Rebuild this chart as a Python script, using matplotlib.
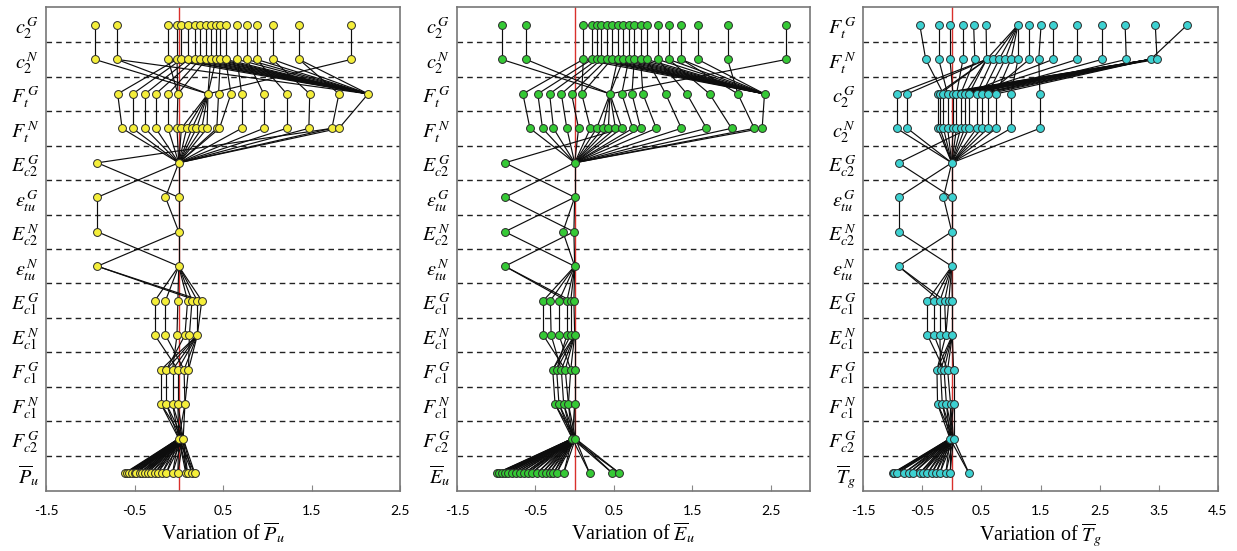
import matplotlib
matplotlib.use("Agg")
import matplotlib.pyplot as plt
from matplotlib.collections import LineCollection

plt.rcParams["mathtext.fontset"] = "stix"

# ---------------- Panel 1: variation of P_u ----------------
pu_labels = [r"$c_2^{\,G}$", r"$c_2^{\,N}$", r"$F_t^{\,G}$", r"$F_t^{\,N}$",
             r"$E_{c2}^{\,G}$", r"$\varepsilon_{tu}^{\,G}$", r"$E_{c2}^{\,N}$",
             r"$\varepsilon_{tu}^{\,N}$", r"$E_{c1}^{\,G}$", r"$E_{c1}^{\,N}$",
             r"$F_{c1}^{\,G}$", r"$F_{c1}^{\,N}$", r"$F_{c2}^{\,G}$", r"$\overline{P}_{u}$"]
pu_nodes = [
    [-0.95, -0.70, -0.12, -0.02, 0.03, 0.11, 0.18, 0.24, 0.31, 0.36, 0.42, 0.47, 0.53, 0.66, 0.77, 0.88, 1.06, 1.36, 1.95],
    [-0.95, -0.70, -0.12, -0.02, 0.03, 0.11, 0.18, 0.24, 0.31, 0.36, 0.42, 0.47, 0.53, 0.66, 0.77, 0.88, 1.06, 1.36, 1.95],
    [-0.69, -0.52, -0.38, -0.26, -0.12, -0.01, 0.33, 0.45, 0.59, 0.71, 0.96, 1.22, 1.48, 1.81, 2.14],
    [-0.64, -0.52, -0.38, -0.26, -0.12, -0.02, 0.03, 0.09, 0.15, 0.20, 0.26, 0.32, 0.43, 0.46, 0.71, 0.96, 1.22, 1.47, 1.73, 1.81],
    [-0.92, 0.00],
    [-0.92, -0.15, 0.00],
    [-0.92, 0.00],
    [-0.92, 0.00],
    [-0.27, -0.15, -0.01, 0.10, 0.15, 0.21, 0.26],
    [-0.27, -0.15, -0.02, 0.07, 0.12, 0.21],
    [-0.20, -0.14, -0.07, -0.01, 0.06, 0.11],
    [-0.20, -0.14, -0.07, -0.01, 0.07],
    [0.00, 0.05],
    [-0.61, -0.59, -0.56, -0.53, -0.50, -0.48, -0.44, -0.41, -0.38, -0.35, -0.31,
     -0.27, -0.24, -0.19, -0.14, -0.07, -0.01, 0.08, 0.10, 0.15, 0.18],
]
# links between consecutive rows: (index in upper row, indices in lower row)
pu_links = [
    [(i, [i]) for i in range(19)],
    [(0, [6]), (1, [6, 14]), (2, [5, 14]), (3, [0, 5, 14]), (4, [1, 14]), (5, [2, 14]),
     (6, [3, 14]), (7, [4, 14]), (8, [5, 14]), (9, [6, 14]), (10, [6, 14]), (11, [7, 14]),
     (12, [8, 14]), (13, [9, 14]), (14, [10, 14]), (15, [11, 14]), (16, [12, 14]),
     (17, [13, 14]), (18, [6])],
    [(0, [0]), (1, [1]), (2, [2]), (3, [3]), (4, [4]), (5, [5]), (6, [6, 7, 8, 9, 10, 11]),
     (7, [12]), (8, [13]), (9, [14]), (10, [15]), (11, [16]), (12, [17]), (13, [18]), (14, [19])],
    [(i, [1]) for i in range(20)] + [(18, [0])],
    [(0, [2]), (1, [0, 1, 2])],
    [(0, [0]), (1, [1]), (2, [1])],
    [(0, [1]), (1, [0, 1])],
    [(1, [0, 1, 2, 3, 4, 5, 6]), (0, [5, 6])],
    [(0, [0]), (1, [1]), (2, [2]), (3, [3]), (4, [4]), (5, [5]), (6, [5])],
    [(5, [0, 1, 2, 3, 4, 5]), (0, [3]), (1, [4]), (2, [2]), (3, [1]), (4, [5])],
    [(0, [0]), (1, [1]), (2, [2]), (3, [3]), (4, [4]), (5, [4])],
    [(i, [0, 1]) for i in range(5)],
    [(0, list(range(21))), (1, list(range(21)))],
]

# ---------------- Panel 2: variation of E_u ----------------
eu_labels = pu_labels[:-1] + [r"$\overline{E}_{u}$"]
eu_nodes = [
    [-0.93, -0.62, 0.11, 0.22, 0.29, 0.34, 0.41, 0.47, 0.55, 0.62, 0.69, 0.76, 0.84, 0.92, 1.06, 1.20, 1.36, 1.57, 1.95, 2.70],
    [-0.93, -0.62, 0.11, 0.22, 0.29, 0.34, 0.41, 0.47, 0.55, 0.62, 0.69, 0.76, 0.84, 0.92, 1.06, 1.20, 1.36, 1.57, 1.95, 2.70],
    [-0.66, -0.47, -0.32, -0.17, -0.04, 0.09, 0.45, 0.60, 0.73, 0.87, 1.16, 1.43, 1.72, 2.08, 2.42],
    [-0.57, -0.41, -0.27, -0.10, 0.05, 0.20, 0.28, 0.36, 0.43, 0.52, 0.60, 0.74, 0.84, 1.04, 1.36, 1.68, 2.00, 2.29, 2.39],
    [-0.89, 0.00],
    [-0.89, 0.00],
    [-0.89, -0.15, -0.01],
    [-0.89, 0.00],
    [-0.40, -0.31, -0.20, -0.10, -0.05, -0.01],
    [-0.40, -0.30, -0.20, -0.10, -0.05, 0.00],
    [-0.28, -0.23, -0.17, -0.12, -0.05, 0.00],
    [-0.25, -0.20, -0.14, -0.08, 0.00],
    [-0.03, 0.01],
    [-0.99, -0.97, -0.93, -0.89, -0.85, -0.80, -0.75, -0.70, -0.64, -0.60, -0.55,
     -0.48, -0.42, -0.37, -0.32, -0.27, -0.23, -0.14, 0.19, 0.48, 0.57],
]
eu_links = [
    [(i, [i]) for i in range(20)],
    [(0, [6]), (1, [6]), (2, [0, 5, 14]), (3, [1, 14]), (4, [2, 14]), (5, [3, 14]),
     (6, [4, 14]), (7, [5, 14]), (8, [6, 14]), (9, [6, 14]), (10, [7, 14]), (11, [8, 14]),
     (12, [9, 14]), (13, [10, 14]), (14, [11, 14]), (15, [12, 14]), (16, [13, 14]),
     (17, [14]), (18, [13]), (19, [6])],
    [(0, [0]), (1, [1]), (2, [2]), (3, [3]), (4, [4]), (5, [5]), (6, [6, 7, 8, 9, 10]),
     (7, [11]), (8, [12]), (9, [13]), (10, [14]), (11, [15]), (12, [16]), (13, [17]), (14, [18])],
    [(i, [1]) for i in range(19)] + [(10, [0])],
    [(0, [1]), (1, [0, 1])],
    [(0, [2]), (1, [0, 1, 2])],
    [(0, [1]), (1, [1]), (2, [0, 1])],
    [(1, [0, 1, 2, 3, 4, 5]), (0, [3, 4])],
    [(0, [0]), (1, [1]), (2, [2]), (3, [3]), (4, [4]), (5, [5])],
    [(5, [0, 1, 2, 3, 4, 5]), (0, [3]), (1, [2]), (2, [4]), (3, [1]), (4, [0])],
    [(0, [0]), (1, [1]), (2, [2]), (3, [3]), (4, [3]), (5, [4])],
    [(i, [0, 1]) for i in range(5)],
    [(0, list(range(21))), (1, list(range(21)))],
]

# ---------------- Panel 3: variation of T_g ----------------
tg_labels = [r"$F_t^{\,G}$", r"$F_t^{\,N}$", r"$c_2^{\,G}$", r"$c_2^{\,N}$"] + pu_labels[4:-1] + [r"$\overline{T}_{g}$"]
tg_nodes = [
    [-0.54, -0.22, -0.03, 0.19, 0.37, 0.58, 1.12, 1.31, 1.51, 1.71, 2.12, 2.54, 2.93, 3.44, 3.98],
    [-0.44, -0.22, -0.03, 0.19, 0.39, 0.59, 0.69, 0.80, 0.90, 1.00, 1.12, 1.31, 1.47, 1.71, 2.12, 2.54, 2.95, 3.36, 3.47],
    [-0.93, -0.75, -0.24, -0.20, -0.14, -0.07, 0.02, 0.08, 0.15, 0.22, 0.29, 0.42, 0.51, 0.61, 0.75, 1.00, 1.49],
    [-0.93, -0.75, -0.24, -0.20, -0.14, -0.07, 0.02, 0.08, 0.15, 0.22, 0.29, 0.42, 0.51, 0.61, 0.75, 1.00, 1.49],
    [-0.90, 0.00],
    [-0.90, -0.14, 0.00],
    [-0.90, 0.00],
    [-0.90, 0.00],
    [-0.41, -0.30, -0.20, -0.12, -0.05, 0.01],
    [-0.41, -0.30, -0.20, -0.10, 0.01],
    [-0.25, -0.19, -0.13, -0.07, 0.03],
    [-0.24, -0.16, -0.09, -0.02, 0.03],
    [-0.03, 0.03],
    [-1.00, -0.97, -0.92, -0.81, -0.73, -0.65, -0.54, -0.49, -0.41, -0.34, -0.27,
     -0.20, -0.10, -0.03, 0.29],
]
tg_links = [
    [(0, [0]), (1, [1]), (2, [2]), (3, [3]), (4, [4]), (5, [5]), (6, [5, 6, 7, 8, 9, 10]),
     (7, [11]), (8, [12]), (9, [13]), (10, [14]), (11, [15]), (12, [16]), (13, [18]), (14, [17])],
    [(0, [4]), (1, [5]), (2, [6]), (3, [7]), (4, [8]), (5, [0, 1, 2, 3, 9, 10]), (6, [11]),
     (7, [12]), (8, [13]), (9, [14]), (10, [15]), (11, [13]), (12, [16]), (13, [9]),
     (14, [10]), (15, [11]), (16, [12]), (18, [6]),
     (17, [2, 3, 4, 5, 6, 7, 8, 9, 10, 11, 12, 13, 14])],
    [(i, [i]) for i in range(17)],
    [(i, [1]) for i in range(17)] + [(10, [0])],
    [(0, [2]), (1, [0, 1, 2])],
    [(0, [0]), (1, [1]), (2, [1])],
    [(0, [1]), (1, [0, 1])],
    [(1, [0, 1, 2, 3, 4, 5]), (0, [2, 3])],
    [(0, [0]), (1, [1]), (2, [2]), (3, [3]), (4, [3]), (5, [4])],
    [(4, [0, 1, 2, 3, 4]), (0, [2]), (1, [3]), (2, [1]), (3, [0])],
    [(0, [0]), (1, [1]), (2, [2]), (3, [3]), (4, [4])],
    [(i, [0, 1]) for i in range(5)],
    [(0, list(range(15))), (1, list(range(15)))],
]

panels = [
    (pu_nodes, pu_links, pu_labels, "#f4ee3a", (-1.5, 2.5), [-1.5, -0.5, 0.5, 1.5, 2.5],
     r"Variation of $\overline{P}_{u}$"),
    (eu_nodes, eu_links, eu_labels, "#35c935", (-1.5, 3.0), [-1.5, -0.5, 0.5, 1.5, 2.5],
     r"Variation of $\overline{E}_{u}$"),
    (tg_nodes, tg_links, tg_labels, "#3dd1d1", (-1.5, 4.5), [-1.5, -0.5, 0.5, 1.5, 2.5, 3.5, 4.5],
     r"Variation of $\overline{T}_{g}$"),
]

W, H = 1237, 551
fig = plt.figure(figsize=(W / 100, H / 100), dpi=100)
boxes = [(46, 400), (457, 810), (863, 1218)]
top_px, bot_px = 7, 491

for (nodes, links, labels, color, xlim, xticks, xlabel), (l, r) in zip(panels, boxes):
    ax = fig.add_axes([l / W, 1 - bot_px / H, (r - l) / W, (bot_px - top_px) / H])
    n = len(nodes)
    ys = [n - 1 - k for k in range(n)]

    # separators between rows
    for k in range(n - 1):
        ax.axhline(k + 0.5, color="#222222", lw=1.0, ls=(0, (4, 3)), zorder=1)

    # zero reference
    ax.axvline(0, color="#d9302c", lw=1.0, zorder=2)

    segs = []
    for k, gap in enumerate(links):
        for i, js in gap:
            for j in js:
                segs.append([(nodes[k][i], ys[k]), (nodes[k + 1][j], ys[k + 1])])
    ax.add_collection(LineCollection(segs, colors="#0d0d0d", linewidths=0.85, zorder=3))

    for k in range(n):
        ax.scatter(nodes[k], [ys[k]] * len(nodes[k]), s=32, c=color,
                   edgecolors="#2a2a2a", linewidths=0.7, zorder=4)

    ax.set_xlim(*xlim)
    ax.set_ylim(-0.52, n - 1 + 0.52)
    ax.set_xticks(xticks)
    ax.set_xticklabels([f"{t:g}" for t in xticks], fontfamily="Lato", fontsize=10)
    ax.tick_params(axis="x", direction="in", length=4, color="#888888", pad=10)
    ax.set_yticks(ys)
    ax.set_yticklabels(labels, fontsize=14.5)
    ax.tick_params(axis="y", length=0, pad=5)
    for s in ax.spines.values():
        s.set_color("#777777")
        s.set_linewidth(1.2)
    ax.set_xlabel(xlabel, fontfamily="Liberation Serif", fontsize=14.5, labelpad=3)

fig.savefig("out.png", dpi=100)
